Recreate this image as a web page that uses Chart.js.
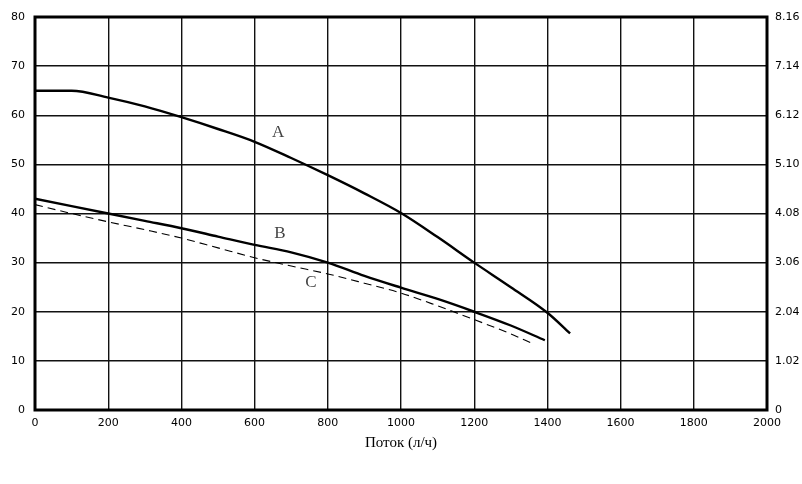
<!DOCTYPE html>
<html>
<head>
<meta charset="utf-8">
<script src="https://cdn.jsdelivr.net/npm/chart.js@4/dist/chart.umd.min.js"></script>
<style>
  html, body { margin: 0; padding: 0; background: #fff; }
  #wrap { width: 802px; height: 484px; }
</style>
</head>
<body>
<div id="wrap"><canvas id="chart"></canvas></div>
<script>
// данные
const flowA = [0, 100, 200, 300, 400, 500, 600, 700, 800, 900, 1000, 1100, 1200, 1300, 1400, 1462];
const headA = [65, 65, 63.6, 61.8, 59.6, 57.2, 54.6, 51.3, 47.8, 44.1, 40.1, 35.2, 30, 25, 19.8, 15.6];
const flowB = [0, 100, 200, 300, 400, 500, 600, 700, 800, 900, 1000, 1100, 1200, 1300, 1393];
const headB = [43, 41.5, 40, 38.5, 37, 35.3, 33.6, 32.1, 30, 27.3, 24.9, 22.6, 20, 17.2, 14.2];
const flowC = [0, 100, 200, 300, 400, 500, 600, 700, 800, 900, 1000, 1100, 1200, 1300, 1357];
const headC = [41.8, 40, 38.3, 36.7, 35, 33, 31, 29.3, 27.7, 25.8, 23.8, 21.2, 18.4, 15.5, 13.6];
const rightLabels = ['0', '1.02', '2.04', '3.06', '4.08', '5.10', '6.12', '7.14', '8.16'];
const curveNames = ['A', 'B', 'C'];
const namePos = [[664, 56.4], [669, 36], [754, 25.9]];

const pts = (xs, ys) => xs.map((x, i) => ({ x: x, y: ys[i] }));
const tickFont = { family: 'DejaVu Sans', size: 11 };

const framePlugin = {
  id: 'frame',
  afterDraw(chart) {
    const { ctx, chartArea: a, scales } = chart;
    ctx.save();
    ctx.strokeStyle = '#000';
    ctx.lineWidth = 3;
    ctx.strokeRect(a.left, a.top, a.right - a.left, a.bottom - a.top);
    ctx.fillStyle = '#444';
    ctx.font = '17px "Liberation Serif"';
    ctx.textAlign = 'center';
    ctx.textBaseline = 'middle';
    curveNames.forEach((n, i) => {
      ctx.fillText(n, scales.x.getPixelForValue(namePos[i][0]), scales.y.getPixelForValue(namePos[i][1]));
    });
    ctx.restore();
  }
};

new Chart(document.getElementById('chart'), {
  type: 'line',
  data: {
    datasets: [
      { label: 'A', data: pts(flowA, headA), borderColor: '#000', borderWidth: 2.4, pointRadius: 0, tension: 0.4, cubicInterpolationMode: 'monotone' },
      { label: 'B', data: pts(flowB, headB), borderColor: '#000', borderWidth: 2.4, pointRadius: 0, tension: 0.4, cubicInterpolationMode: 'monotone' },
      { label: 'C', data: pts(flowC, headC), borderColor: '#000', borderWidth: 1.1, borderDash: [8, 5], pointRadius: 0, tension: 0.4, cubicInterpolationMode: 'monotone' }
    ]
  },
  options: {
    responsive: true,
    maintainAspectRatio: false,
    animation: false,
    layout: { padding: { top: 17, bottom: 32, left: 0, right: 0 } },
    plugins: { legend: { display: false }, tooltip: { enabled: false } },
    scales: {
      x: {
        type: 'linear', min: 0, max: 2000,
        ticks: { stepSize: 200, color: '#000', font: tickFont, padding: 7, maxRotation: 0, callback: v => String(v) },
        grid: { color: '#111', lineWidth: 1.4, drawTicks: false },
        border: { display: false },
        title: { display: true, text: 'Поток (л/ч)', color: '#000', font: { family: 'Liberation Serif', size: 15 }, padding: { top: 0, bottom: 0 } },
        afterFit(s) { s.height = 42; }
      },
      y: {
        position: 'left', min: 0, max: 80,
        ticks: { stepSize: 10, color: '#000', font: tickFont, padding: 10 },
        grid: { color: '#111', lineWidth: 1.4, drawTicks: false },
        border: { display: false },
        afterFit(s) { s.width = 35; }
      },
      y2: {
        position: 'right', min: 0, max: 80,
        ticks: { stepSize: 10, color: '#000', font: tickFont, padding: 8, callback: (v, i) => rightLabels[i] },
        grid: { display: false, drawTicks: false },
        border: { display: false },
        afterFit(s) { s.width = 35; }
      }
    }
  },
  plugins: [framePlugin]
});
</script>
</body>
</html>
